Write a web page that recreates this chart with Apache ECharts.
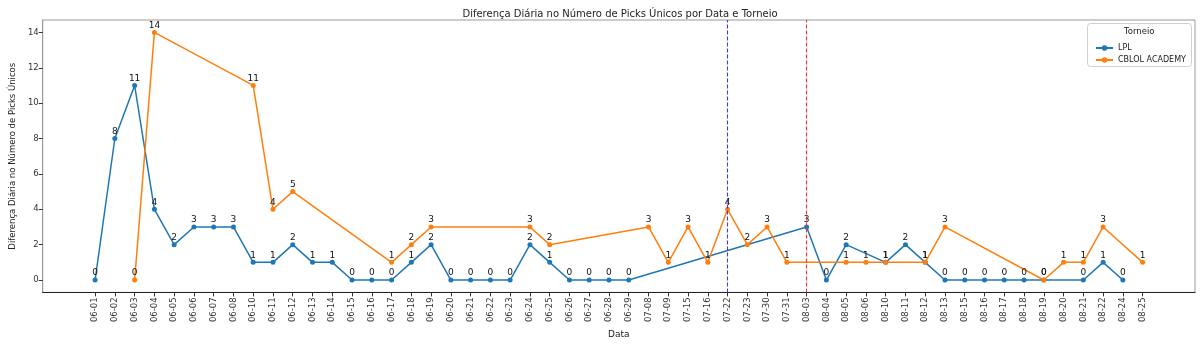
<!DOCTYPE html>
<html>
<head>
<meta charset="utf-8">
<script src="https://cdn.jsdelivr.net/npm/echarts@6/dist/echarts.min.js"></script>
<style>
  html, body { margin: 0; padding: 0; background: #fff; }
  #chart { width: 1200px; height: 344px; }
</style>
</head>
<body>
<div id="chart"></div>
<script>
// Dates (MM-DD) shown along the x axis, in order of appearance
const dates = [
  '06-01','06-02','06-03','06-04','06-05','06-06','06-07','06-08','06-10','06-11',
  '06-12','06-13','06-14','06-15','06-16','06-17','06-18','06-19','06-20','06-21',
  '06-22','06-23','06-24','06-25','06-26','06-27','06-28','06-29','07-08','07-09',
  '07-15','07-16','07-22','07-23','07-30','07-31','08-03','08-04','08-05','08-06',
  '08-10','08-11','08-12','08-13','08-15','08-16','08-17','08-18','08-19','08-20',
  '08-21','08-22','08-24','08-25'
];

// Daily difference in unique picks, LPL (null = no games that day)
const lpl = [
  0, 8, 11, 4, 2, 3, 3, 3, 1, 1,
  2, 1, 1, 0, 0, 0, 1, 2, 0, 0,
  0, 0, 2, 1, 0, 0, 0, 0, null, null,
  null, null, null, null, null, null, 3, 0, 2, null,
  1, 2, 1, 0, 0, 0, 0, 0, 0, null,
  0, 1, 0, null
];

// Daily difference in unique picks, CBLOL ACADEMY
const cblolAcademy = [
  null, null, 0, 14, null, null, null, null, 11, 4,
  5, null, null, null, null, 1, 2, 3, null, null,
  null, null, 3, 2, null, null, null, null, 3, 1,
  3, 1, 4, 2, 3, 1, null, null, 1, 1,
  1, null, 1, 3, null, null, null, null, 0, 1,
  1, 3, null, 1
];

const seriesNames = ['LPL', 'CBLOL ACADEMY'];
const markerDates = ['07-22', '08-03'];
const markerColors = ['#3a3aff', '#e8383d'];
const yTicks = [0, 2, 4, 6, 8, 10, 12, 14];

const FONT = 'DejaVu Sans';
const toPairs = arr => arr.map((v, i) => v === null ? null : [i, v]).filter(p => p !== null);
const idx = d => dates.indexOf(d);

const lineSeries = (name, values, color) => ({
  name: name,
  type: 'line',
  data: toPairs(values),
  color: color,
  symbol: 'circle',
  symbolSize: 5,
  lineStyle: { width: 1.5, color: color },
  itemStyle: { color: color },
  label: {
    show: true,
    position: 'top',
    distance: 0,
    color: '#111',
    fontFamily: FONT,
    fontSize: 9
  },
  emphasis: { disabled: true }
});

// Dashed vertical reference line at a given date, as its own empty series
const vLine = (date, color) => ({
  type: 'line',
  data: [],
  silent: true,
  markLine: {
    silent: true,
    symbol: ['none', 'none'],
    label: { show: false },
    lineStyle: { color: color, type: [4, 2], width: 1.1, opacity: 1 },
    emphasis: { disabled: true },
    data: [{ xAxis: idx(date) }]
  }
});

const chart = echarts.init(document.getElementById('chart'), null, { renderer: 'canvas' });

chart.setOption({
  animation: false,
  backgroundColor: '#fff',
  title: {
    text: 'Diferença Diária no Número de Picks Únicos por Data e Torneio',
    left: 615, top: 4, textAlign: 'center',
    textStyle: { fontFamily: FONT, fontSize: 10, fontWeight: 'normal', color: '#222' }
  },
  grid: {
    left: 36, right: 5, top: 20, bottom: 48,
    show: true, borderColor: '#999', borderWidth: 1, containLabel: false
  },
  legend: {
    data: seriesNames,
    orient: 'vertical',
    left: 1090, top: 39,
    itemWidth: 17, itemHeight: 7, itemGap: 4,
    textStyle: { fontFamily: FONT, fontSize: 8, color: '#222' }
  },
  graphic: [
    {
      type: 'rect', left: 1087, top: 23, z: -1,
      shape: { width: 104, height: 43, r: 3 },
      style: { fill: '#fff', stroke: '#d0d0d0', lineWidth: 1 }
    },
    {
      type: 'text', left: 1124, top: 27,
      style: { text: 'Torneio', fontFamily: FONT, fontSize: 8.5, fill: '#222' }
    }
  ],
  xAxis: {
    type: 'value',
    min: -2.65, max: 55.65,
    name: 'Data', nameLocation: 'middle', nameGap: 36,
    nameTextStyle: { fontFamily: FONT, fontSize: 9, color: '#222' },
    splitLine: { show: false },
    axisLine: { show: true, onZero: false, lineStyle: { color: '#222', width: 1 } },
    axisTick: { show: true, length: 4, lineStyle: { color: '#333' }, customValues: dates.map((d, i) => i) },
    axisLabel: {
      rotate: 90, fontFamily: FONT, fontSize: 8.5, color: '#333', margin: 5,
      customValues: dates.map((d, i) => i),
      formatter: v => dates[Math.round(v)] || ''
    }
  },
  yAxis: {
    type: 'value',
    min: -0.7, max: 14.7,
    name: 'Diferença Diária no Número de Picks Únicos', nameLocation: 'middle', nameGap: 24,
    nameTextStyle: { fontFamily: FONT, fontSize: 8.5, color: '#222' },
    splitLine: { show: false },
    axisLine: { show: true, onZero: false, lineStyle: { color: '#999', width: 1 } },
    axisTick: { show: true, length: 4, lineStyle: { color: '#333' }, customValues: yTicks },
    axisLabel: { fontFamily: FONT, fontSize: 8.5, color: '#333', margin: 4, customValues: yTicks }
  },
  series: [
    vLine(markerDates[0], markerColors[0]),
    vLine(markerDates[1], markerColors[1]),
    lineSeries(seriesNames[0], lpl, '#1f77b4'),
    lineSeries(seriesNames[1], cblolAcademy, '#ff7f0e')
  ]
});
</script>
</body>
</html>
